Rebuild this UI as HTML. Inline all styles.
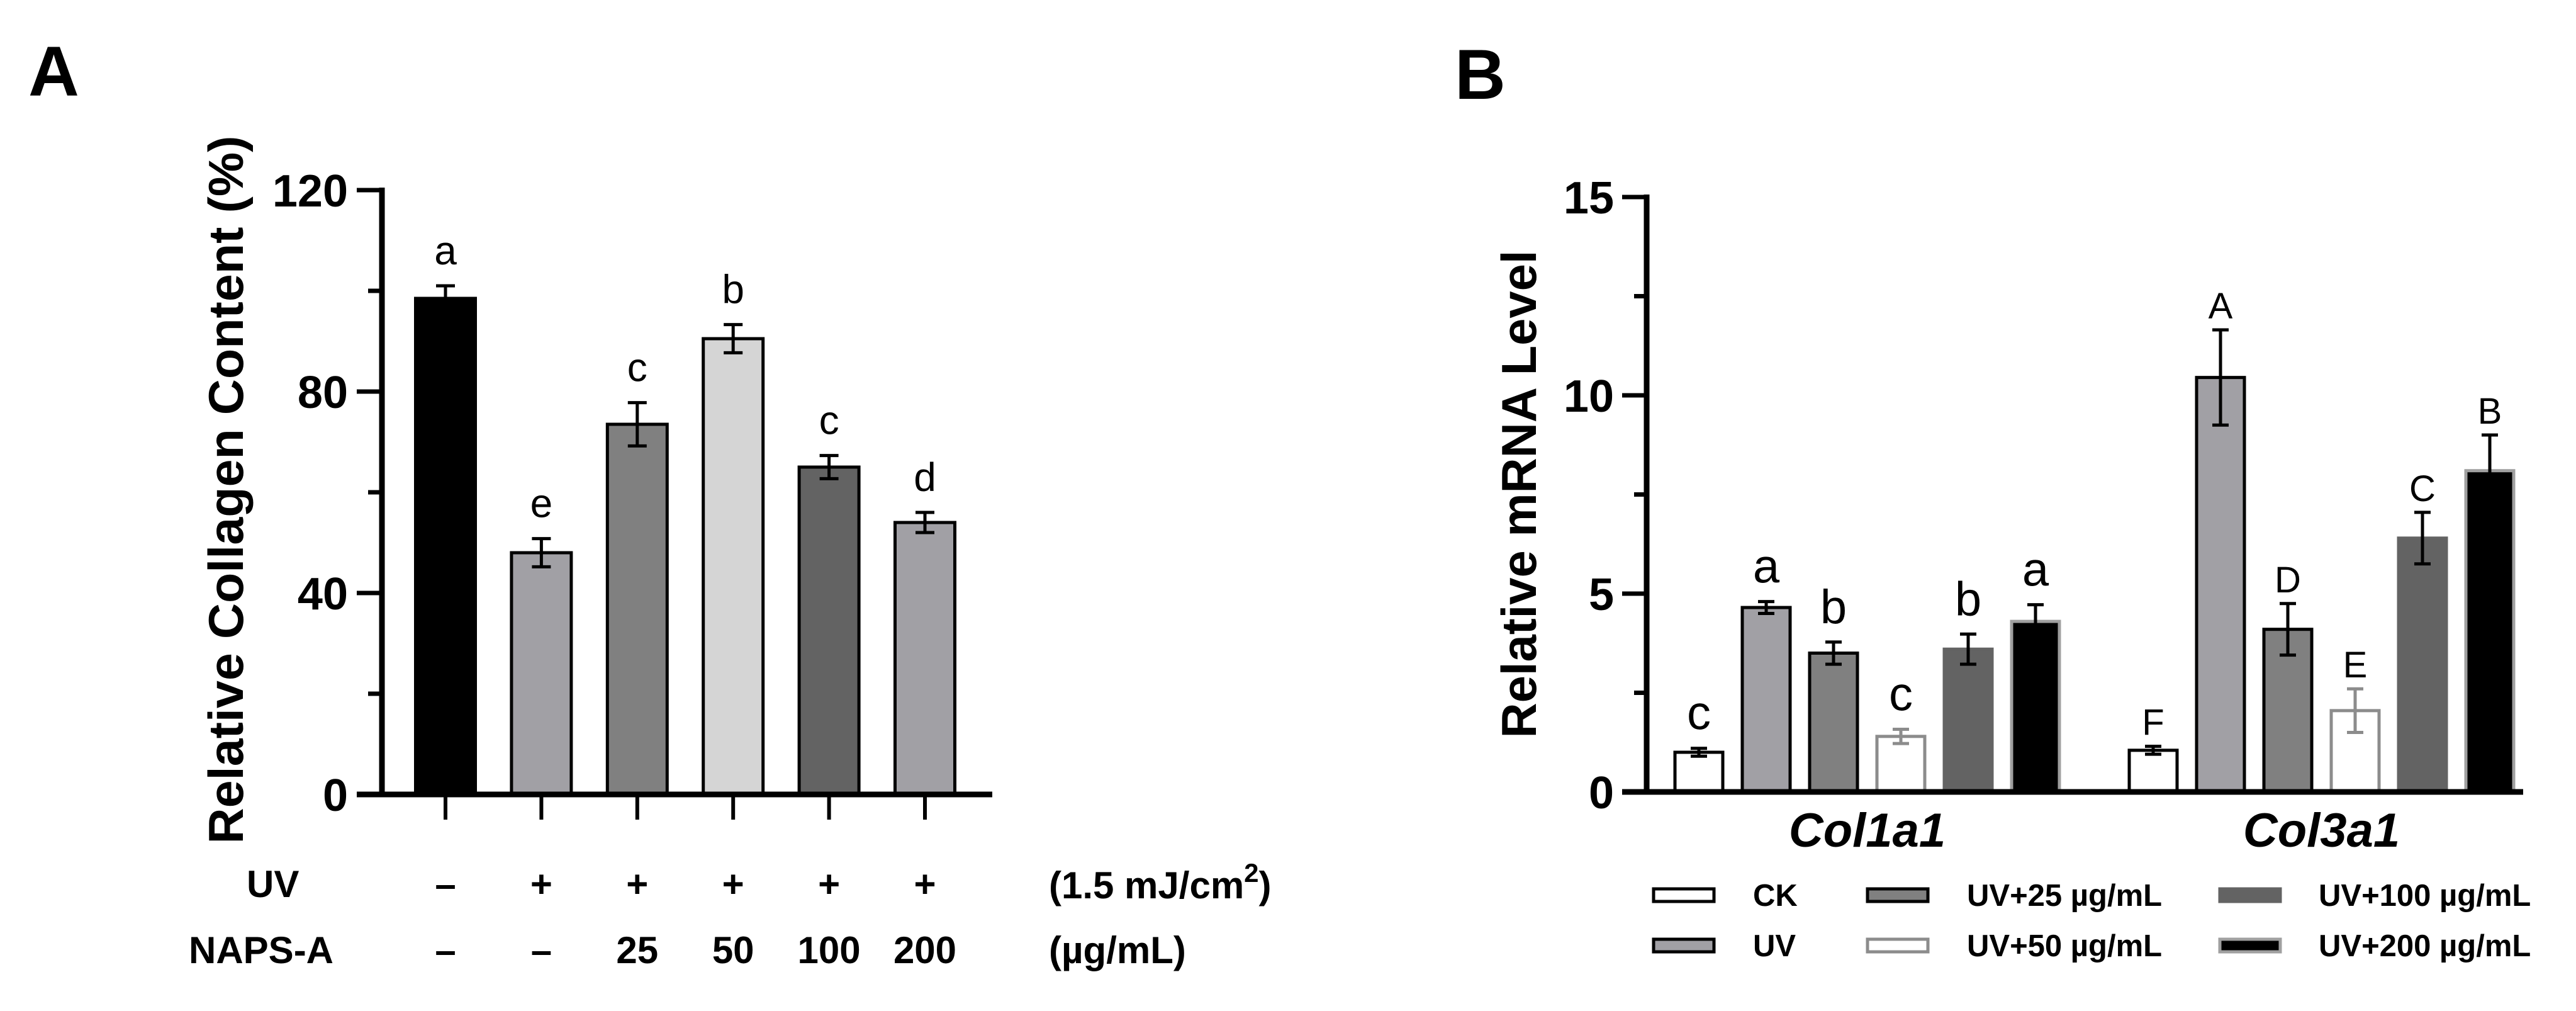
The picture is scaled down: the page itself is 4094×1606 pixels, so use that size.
<!DOCTYPE html>
<html><head><meta charset="utf-8"><style>
html,body{margin:0;padding:0;background:#fff;}
svg{display:block;font-family:"Liberation Sans",Arial,sans-serif;}
</style></head><body>
<svg id="fig" width="4094" height="1606" viewBox="0 0 4094 1606" xmlns="http://www.w3.org/2000/svg">
<rect width="4094" height="1606" fill="#fff"/>
<text x="45" y="152" font-size="112" font-weight="bold">A</text>
<text x="2312" y="157" font-size="112" font-weight="bold">B</text>
<g id="gA"></g>
<g id="gB"></g>
</svg>
<script>
// ---- Panel A data ----
const aCategories = ["CK","UV","UV+25","UV+50","UV+100","UV+200"];
const aValues = [98.5, 48, 73.5, 90.5, 65, 54];
const aErrors = [2.5, 2.8, 4.3, 2.8, 2.3, 2];
const aLetters = ["a","e","c","b","c","d"];
const aTicks = [0, 40, 80, 120];
const aUV = ["\u2013","+","+","+","+","+"];
const aNaps = ["\u2013","\u2013","25","50","100","200"];
// ---- Panel B data ----
const bGenes = ["Col1a1","Col3a1"];
const bSeries = ["CK","UV","UV+25 \u00b5g/mL","UV+50 \u00b5g/mL","UV+100 \u00b5g/mL","UV+200 \u00b5g/mL"];
const bCol1a1 = [1.0, 4.65, 3.5, 1.4, 3.6, 4.3];
const bCol1a1Err = [0.1, 0.15, 0.28, 0.18, 0.38, 0.42];
const bCol3a1 = [1.05, 10.45, 4.1, 2.05, 6.4, 8.1];
const bCol3a1Err = [0.1, 1.2, 0.65, 0.55, 0.65, 0.9];
const bCol1a1Letters = ["c","a","b","c","b","a"];
const bCol3a1Letters = ["F","A","D","E","C","B"];
const bTicks = [0, 5, 10, 15];

const NS = "http://www.w3.org/2000/svg";
function mk(parent, tag, attrs, text){
  const e = document.createElementNS(NS, tag);
  for (const k in attrs) e.setAttribute(k, attrs[k]);
  if (text !== undefined) e.textContent = text;
  parent.appendChild(e);
  return e;
}

// ===== Panel A =====
const gA = document.getElementById("gA");
const ayScale = v => 1262 - v * 8;
const axScale = i => 708 + i * 152.4;
const aFill = ["#000000","#a1a0a5","#808080","#d5d5d5","#636363","#a1a0a5"];
aValues.forEach((v,i)=>{
  const cx = axScale(i), w = 95;
  const r = mk(gA,"rect",{x:cx-w/2,y:ayScale(v),width:w,height:ayScale(0)-ayScale(v),fill:aFill[i],stroke:"#000","stroke-width":5});
  
  
  const top = ayScale(v+aErrors[i]), bot = ayScale(v-aErrors[i]);
  const eb = mk(gA,"path",{d:`M${cx},${top}V${bot}M${cx-15},${top}H${cx+15}M${cx-15},${bot}H${cx+15}`,stroke:"#000","stroke-width":5,fill:"none"});
  
  
  const t = mk(gA,"text",{x:cx,y:top-34,"font-size":64,"text-anchor":"middle"},aLetters[i]);
  
  
  const tk = mk(gA,"line",{x1:cx,y1:1262,x2:cx,y2:1302,stroke:"#000","stroke-width":6});
  
  
  const u = mk(gA,"text",{x:cx,y:1425,"font-size":60,"font-weight":"bold","text-anchor":"middle"},aUV[i]);
  
  
  const n = mk(gA,"text",{x:cx,y:1530,"font-size":60,"font-weight":"bold","text-anchor":"middle"},aNaps[i]);
  
  
});
// axes
mk(gA,"line",{x1:607,y1:298,x2:607,y2:1266,stroke:"#000","stroke-width":9});
mk(gA,"line",{x1:567,y1:1262,x2:1577,y2:1262,stroke:"#000","stroke-width":9});
for (let v=0; v<=120; v+=20){
  const major = aTicks.includes(v);
  mk(gA,"line",{x1:major?567:585,y1:ayScale(v),x2:607,y2:ayScale(v),stroke:"#000","stroke-width":7});
}
aTicks.forEach(v=>{
  const t = mk(gA,"text",{x:553,y:ayScale(v)+26,"font-size":72,"font-weight":"bold","text-anchor":"end"},String(v));
  
  
});
const tA = mk(gA,"text",{transform:"translate(386,778) rotate(-90)","font-size":78,"font-weight":"bold","text-anchor":"middle",textLength:1125,lengthAdjust:"spacingAndGlyphs"},"Relative Collagen Content (%)");


const uvL = mk(gA,"text",{x:392,y:1425,"font-size":60,"font-weight":"bold"},"UV");


const npL = mk(gA,"text",{x:300,y:1530,"font-size":60,"font-weight":"bold"},"NAPS-A");


const unit1 = mk(gA,"text",{x:1667,y:1427,"font-size":60,"font-weight":"bold"},"(1.5 mJ/cm");


mk(unit1,"tspan",{dy:-26,"font-size":42},"2");
mk(unit1,"tspan",{dy:26},")");
const unit2 = mk(gA,"text",{x:1667,y:1530,"font-size":60,"font-weight":"bold"},"(\u00b5g/mL)");



// ===== Panel B =====
const gB = document.getElementById("gB");
const byScale = v => 1258 - v * 63;
const groupStart = [2700, 3422];
const bxScale = (g,i) => groupStart[g] + i * 107;
const bFill = ["#ffffff","#a1a0a5","#808080","#ffffff","#636363","#000000"];
const bStroke = ["#000","#000","#000","#8c8c8c","#636363","#a0a0a0"];
const bErrCol = ["#000","#000","#000","#8c8c8c","#000","#000"];
const bData = [[bCol1a1,bCol1a1Err,bCol1a1Letters],[bCol3a1,bCol3a1Err,bCol3a1Letters]];
bData.forEach((d,g)=>{
  d[0].forEach((v,i)=>{
    const cx = bxScale(g,i), w = 76;
    const r = mk(gB,"rect",{x:cx-w/2,y:byScale(v),width:w,height:byScale(0)-byScale(v),fill:bFill[i],stroke:bStroke[i],"stroke-width":5});
    
    
    const top = byScale(v+d[1][i]), bot = byScale(v-d[1][i]);
    const eb = mk(gB,"path",{d:`M${cx},${top}V${bot}M${cx-13},${top}H${cx+13}M${cx-13},${bot}H${cx+13}`,stroke:bErrCol[i],"stroke-width":5,fill:"none"});
    
    
    const lower = g===0;
    const t = mk(gB,"text",{x:cx,y:top-(lower?30:18),"font-size":lower?76:58,"text-anchor":"middle"},d[2][i]);
    
    
  });
});
mk(gB,"line",{x1:2617,y1:309,x2:2617,y2:1262,stroke:"#000","stroke-width":9});
mk(gB,"line",{x1:2578,y1:1258,x2:4010,y2:1258,stroke:"#000","stroke-width":9});
for (let v=0; v<=15; v+=2.5){
  const major = bTicks.includes(v);
  mk(gB,"line",{x1:major?2578:2597,y1:byScale(v),x2:2617,y2:byScale(v),stroke:"#000","stroke-width":7});
}
bTicks.forEach(v=>{
  const t = mk(gB,"text",{x:2565,y:byScale(v)+26,"font-size":72,"font-weight":"bold","text-anchor":"end"},String(v));
  
  
});
const tB = mk(gB,"text",{transform:"translate(2441,785) rotate(-90)","font-size":78,"font-weight":"bold","text-anchor":"middle",textLength:775,lengthAdjust:"spacingAndGlyphs"},"Relative mRNA Level");


bGenes.forEach((gname,g)=>{
  const cx = (bxScale(g,0)+bxScale(g,5))/2;
  const t = mk(gB,"text",{x:cx,y:1345,"font-size":76,"font-weight":"bold","font-style":"italic","text-anchor":"middle"},gname);
  
  
});
// legend
const legSw = [2628,2628,2968,2968,3528,3528];
const legTx = [2786,2786,3126,3126,3685,3685];
const legY = [1422,1502,1422,1502,1422,1502];
bSeries.forEach((s,i)=>{
  const sw = mk(gB,"rect",{x:legSw[i],y:legY[i]-10,width:96,height:20,fill:bFill[i],stroke:bStroke[i],"stroke-width":5});
  
  
  const t = mk(gB,"text",{x:legTx[i],y:legY[i]+17,"font-size":49,"font-weight":"bold"},s);
  
  
});
</script>
</body></html>
